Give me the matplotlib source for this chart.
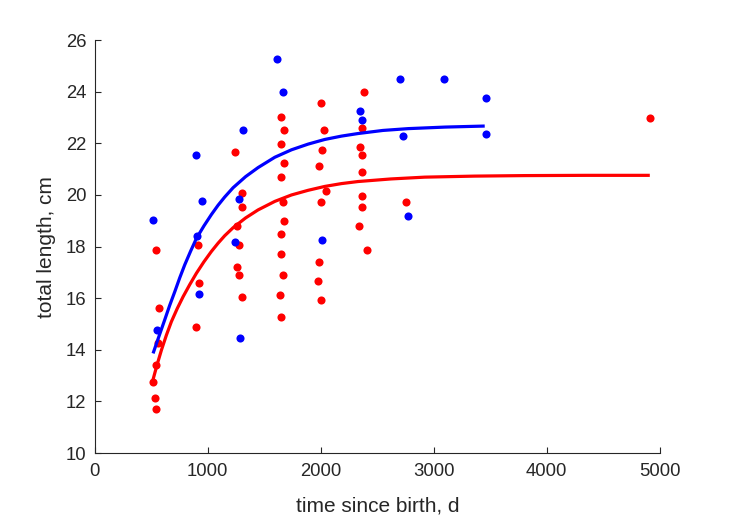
import matplotlib
matplotlib.use('Agg')
import matplotlib.pyplot as plt

plt.rcParams['font.family'] = ['Liberation Sans', 'DejaVu Sans']

# observed lengths, blue group
blue_t = [516, 894, 950, 905, 923, 551, 1245, 1274, 1313, 1286, 1611, 1664,
          2015, 2351, 2366, 2702, 2728, 2770, 3091, 3460, 3460]
blue_len = [19.03, 21.56, 19.76, 18.40, 16.15, 14.78, 18.17, 19.86, 22.52, 14.46, 25.25, 24.00,
            18.26, 23.24, 22.92, 24.50, 22.28, 19.20, 24.50, 23.75, 22.36]

# observed lengths, red group
red_t = [546, 569, 560, 546, 516, 534, 546, 894, 915, 923,
         1245, 1301, 1301, 1257, 1280, 1260, 1274, 1301,
         1652, 1679, 1652, 1679, 1652, 1667, 1679, 1652, 1652, 1664, 1637, 1652,
         2000, 2029, 2015, 1988, 2044, 2000, 1988, 1973, 2000,
         2381, 2366, 2351, 2366, 2366, 2366, 2366, 2339, 2407, 2755, 4917]
red_len = [17.86, 15.62, 14.25, 13.41, 12.76, 12.13, 11.69, 14.88, 18.05, 16.58,
           21.65, 20.08, 19.55, 18.81, 18.05, 17.21, 16.89, 16.03,
           23.03, 22.50, 21.98, 21.23, 20.71, 19.74, 19.00, 18.49, 17.72, 16.89, 16.14, 15.28,
           23.57, 22.50, 21.76, 21.12, 20.14, 19.74, 17.40, 16.67, 15.92,
           23.98, 22.61, 21.86, 21.54, 20.89, 19.95, 19.52, 18.79, 17.85, 19.73, 22.97]

# fitted growth curves
blue_fit_t = [516, 560, 619, 663, 708, 752, 796, 848, 900, 966, 1032, 1091, 1150, 1224, 1335,
              1445, 1593, 1741, 1888, 2035, 2183, 2330, 2550, 2773, 3100, 3451]
blue_fit_len = [13.86, 14.42, 15.16, 15.72, 16.25, 16.79, 17.29, 17.82, 18.32, 18.80, 19.24,
                19.60, 19.92, 20.28, 20.71, 21.06, 21.46, 21.75, 21.97, 22.15, 22.28, 22.38,
                22.50, 22.57, 22.63, 22.67]
red_fit_t = [516, 550, 590, 634, 678, 730, 782, 841, 900, 966, 1032, 1091, 1150, 1224, 1335,
             1445, 1593, 1741, 1888, 2035, 2183, 2330, 2620, 2920, 3360, 3805, 4350, 4912]
red_fit_len = [12.85, 13.40, 13.99, 14.57, 15.09, 15.60, 16.06, 16.53, 16.97, 17.41, 17.81,
               18.13, 18.42, 18.73, 19.11, 19.42, 19.75, 20.00, 20.18, 20.33, 20.44, 20.52,
               20.62, 20.69, 20.73, 20.75, 20.76, 20.76]

x_ticks = [0, 1000, 2000, 3000, 4000, 5000]
y_ticks = [10, 12, 14, 16, 18, 20, 22, 24, 26]

fig = plt.figure(figsize=(7.29, 5.21), dpi=100)
ax = fig.add_axes([0.130, 0.1305, 0.775, 0.7925])

ax.scatter(red_t, red_len, s=34, color='#ff0000', linewidths=0, zorder=2)
ax.scatter(blue_t, blue_len, s=34, color='#0000ff', linewidths=0, zorder=2)
ax.plot(blue_fit_t, blue_fit_len, color='#0000ff', lw=2.3, zorder=3,
        solid_capstyle='butt', solid_joinstyle='round')
ax.plot(red_fit_t, red_fit_len, color='#ff0000', lw=2.3, zorder=3,
        solid_capstyle='butt', solid_joinstyle='round')

ax.set_xlim(0, 5000)
ax.set_ylim(10, 26)
ax.set_xticks(x_ticks)
ax.set_yticks(y_ticks)
ax.tick_params(direction='in', length=4, width=0.8, colors='#262626', labelsize=13.3)
ax.tick_params(axis='x', pad=7)
ax.tick_params(axis='y', pad=6)
for side in ['top', 'right']:
    ax.spines[side].set_visible(False)
for side in ['left', 'bottom']:
    ax.spines[side].set_color('#262626')
    ax.spines[side].set_linewidth(0.8)

ax.set_xlabel('time since birth, d', fontsize=15, color='#262626', labelpad=12)
ax.set_ylabel('total length, cm', fontsize=15, color='#262626', labelpad=7)

fig.savefig('out.png', dpi=100)
